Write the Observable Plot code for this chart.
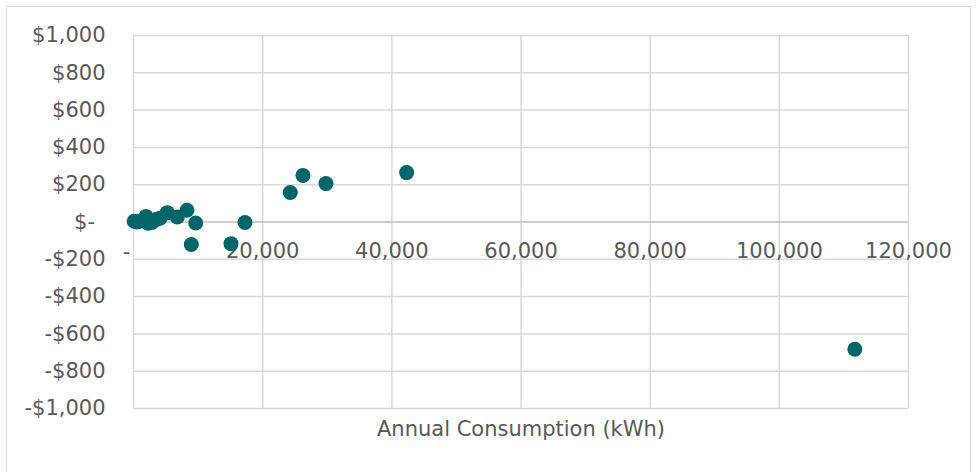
<!DOCTYPE html>
<html>
<head>
<meta charset="utf-8">
<script src="https://cdn.jsdelivr.net/npm/d3@7"></script>
<script src="https://cdn.jsdelivr.net/npm/@observablehq/plot@0.6"></script>
<style>
  html, body { margin: 0; padding: 0; background: #fff; overflow: hidden; }
  #wrap { position: relative; width: 978px; height: 472px; }
  #border { position: absolute; left: 6px; top: 6px; width: 965px; height: 500px; border: 1.5px solid #d9d9d9; box-sizing: border-box; }
  #chart { position: absolute; left: 0; top: 0; }
</style>
</head>
<body>
<div id="wrap"><div id="border"></div><div id="chart"></div></div>
<script>
const consumption = [100, 540, 1000, 1470, 1930, 2240, 2860, 3480, 4100, 5230, 6780, 8280, 8950, 9630, 15090, 17260, 24270, 26240, 29800, 42290, 111690];
const savings     = [4, 0, 4, 9, 30, -7, -2, 14, 20, 50, 27, 63, -121, -5, -116, -3, 158, 250, 206, 265, -682];
const xTicks = [0, 20000, 40000, 60000, 80000, 100000, 120000];
const xTickLabels = ["-", "20,000", "40,000", "60,000", "80,000", "100,000", "120,000"];
const yTicks = [-1000, -800, -600, -400, -200, 0, 200, 400, 600, 800, 1000];
const yTickLabels = ["-$1,000", "-$800", "-$600", "-$400", "-$200", "$-\u2002", "$200", "$400", "$600", "$800", "$1,000"];
const xLabel = "Annual Consumption (kWh)";

const points = consumption.map((c, i) => ({c, s: savings[i]}));
const xt = xTicks.map((v, i) => ({v, t: xTickLabels[i]}));

const chart = Plot.plot({
  width: 978,
  height: 472,
  marginLeft: 133,
  marginRight: 70,
  marginTop: 35,
  marginBottom: 64,
  style: {fontFamily: "DejaVu Sans", fontSize: "21px", color: "#595959", background: "transparent"},
  x: {domain: [0, 120000], axis: null},
  y: {domain: [-1000, 1000], axis: null},
  marks: [
    Plot.ruleY(yTicks.filter(d => d !== 0), {stroke: "#d9d9d9", strokeWidth: 1.5}),
    Plot.ruleX(xTicks, {stroke: "#d9d9d9", strokeWidth: 1.5}),
    Plot.ruleY([0], {stroke: "#bfbfbf", strokeWidth: 1.5}),
    Plot.axisY(yTicks, {tickSize: 0, tickPadding: 28, tickFormat: (d) => yTickLabels[yTicks.indexOf(d)], fill: "#595959", label: null}),
    Plot.text(xt.filter(d => d.v !== 0), {x: "v", y: () => 0, text: "t", dy: 29.5, fill: "#595959"}),
    Plot.text(xt.filter(d => d.v === 0), {x: "v", y: () => 0, text: "t", dy: 30, dx: -7, fill: "#595959"}),
    Plot.text([xLabel], {frameAnchor: "bottom", dy: 21, lineAnchor: "middle", fill: "#595959"}),
    Plot.dot(points, {x: "c", y: "s", r: 7.5, fill: "#00666A", stroke: null})
  ]
});
document.getElementById("chart").appendChild(chart);
</script>
</body>
</html>
